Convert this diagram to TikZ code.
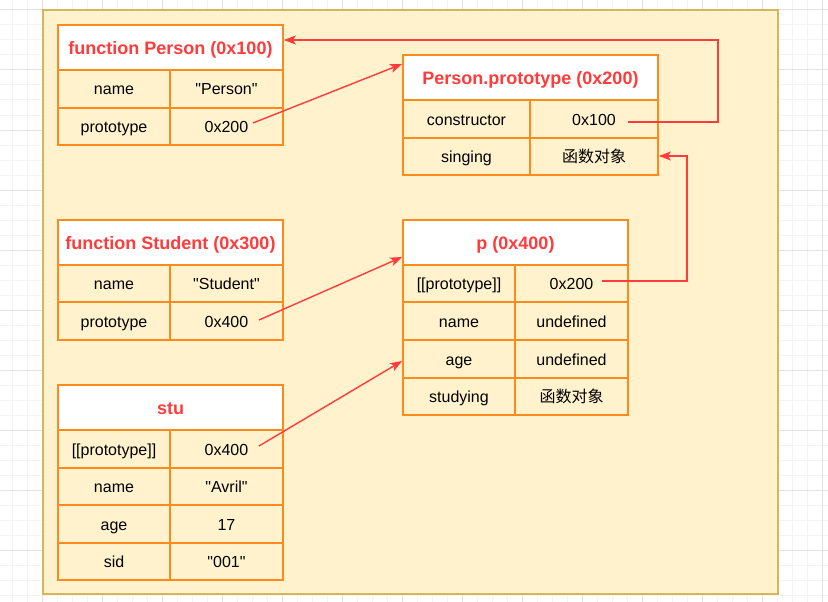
\documentclass[tikz,border=0pt]{standalone}
\usepackage{fontspec}
\setmainfont{Liberation Sans}
\newfontfamily\qfont{Liberation Sans}
\newfontfamily\cjk{Noto Sans CJK SC}
\usetikzlibrary{arrows.meta,calc}
\definecolor{panelfill}{HTML}{FFF2CC}
\definecolor{paneldraw}{HTML}{D6B656}
\definecolor{cellorange}{HTML}{FF8A1C}
\definecolor{linkred}{HTML}{FF3B3B}
\definecolor{gridminor}{HTML}{F3F3F3}
\definecolor{gridmajor}{HTML}{E2E2E2}
\newcommand\dq{{\qfont\symbol{34}}}
\tikzset{
  cell/.style={draw=cellorange, line width=1.8pt, fill=panelfill, inner sep=0pt,
    font=\fontsize{16}{19}\selectfont, text=black, text height=12pt, text depth=0pt},
  titlecell/.style={cell, fill=white, font=\fontsize{18}{21}\selectfont\bfseries, text=linkred,
    text height=14pt, text depth=0pt},
  link/.style={draw=linkred, line width=1.4pt, -{Stealth[length=12pt,width=9pt,inset=3pt]}},
  panel/.style={fill=panelfill, draw=paneldraw, line width=1.6pt},
}
\newcommand\tcell[7][cell]{\node[#1, minimum width={#5-#3}, minimum height={#6-#4}] (#2) at ({(#3+#5)/2},{(#4+#6)/2}) {#7};}
\begin{document}
\begin{tikzpicture}[x=1pt,y=-1pt]
\useasboundingbox (0,0) rectangle (828,602);
% grid
\foreach \i in {0,...,54} {\draw[gridminor, line width=1pt] ({12+15*\i},0) -- ({12+15*\i},602);}
\foreach \i in {0,...,39} {\draw[gridminor, line width=1pt] (0,{10+15*\i}) -- (828,{10+15*\i});}
\foreach \i in {0,...,13} {\draw[gridmajor, line width=1pt] ({42+60*\i},0) -- ({42+60*\i},602);}
\foreach \i in {0,...,9} {\draw[gridmajor, line width=1pt] (0,{10+60*\i}) -- (828,{10+60*\i});}
% panel
\path[panel] (43,10) rectangle (778,594);
% function Person
\tcell[titlecell]{ptitle}{58}{25}{283}{70}{function Person (0x100)}
\tcell{pnk}{58}{70}{170}{108}{name}
\tcell{pnv}{170}{70}{283}{108}{\dq Person\dq}
\tcell{ppk}{58}{108}{170}{145}{prototype}
\tcell{ppv}{170}{108}{283}{145}{0x200}
% Person.prototype
\tcell[titlecell]{pptitle}{403}{55}{658}{100}{Person.prototype (0x200)}
\tcell{ppck}{403}{100}{530}{138}{constructor}
\tcell{ppcv}{530}{100}{658}{138}{0x100}
\tcell{ppsk}{403}{138}{530}{175}{singing}
\tcell{ppsv}{530}{138}{658}{175}{{\cjk 函数对象}}
% function Student
\tcell[titlecell]{stitle}{58}{220}{283}{265}{function Student (0x300)}
\tcell{snk}{58}{265}{170}{302}{name}
\tcell{snv}{170}{265}{283}{302}{\dq Student\dq}
\tcell{spk}{58}{302}{170}{340}{prototype}
\tcell{spv}{170}{302}{283}{340}{0x400}
% p
\tcell[titlecell]{otitle}{403}{220}{628}{265}{p (0x400)}
\tcell{opk}{403}{265}{515}{302}{[[prototype]]}
\tcell{opv}{515}{265}{628}{302}{0x200}
\tcell{onk}{403}{302}{515}{340}{name}
\tcell{onv}{515}{302}{628}{340}{undefined}
\tcell{oak}{403}{340}{515}{378}{age}
\tcell{oav}{515}{340}{628}{378}{undefined}
\tcell{osk}{403}{378}{515}{415}{studying}
\tcell{osv}{515}{378}{628}{415}{{\cjk 函数对象}}
% stu
\tcell[titlecell]{utitle}{58}{385}{283}{430}{stu}
\tcell{upk}{58}{430}{170}{468}{[[prototype]]}
\tcell{upv}{170}{430}{283}{468}{0x400}
\tcell{unk}{58}{468}{170}{505}{name}
\tcell{unv}{170}{468}{283}{505}{\dq Avril\dq}
\tcell{uak}{58}{505}{170}{543}{age}
\tcell{uav}{170}{505}{283}{543}{17}
\tcell{usk}{58}{543}{170}{580}{sid}
\tcell{usv}{170}{543}{283}{580}{\dq 001\dq}
% connector endpoints
\coordinate (s1) at (253,123);
\coordinate (s2) at (628,122);
\coordinate (t2) at (718,40);
\coordinate (s3) at (602,281);
\coordinate (t3) at (687,156);
\coordinate (s4) at (259,320);
\coordinate (s5) at (259,446);
% connectors
\draw[link] (s1) -- ([yshift=13.5pt]pptitle.west);
\draw[link] (s2) -| (t2) -- ([yshift=7.5pt]ptitle.east);
\draw[link] (s3) -| (t3) -- ([yshift=0.5pt]ppsv.east);
\draw[link] (s4) -- ([yshift=-14.5pt]otitle.west);
\draw[link] (s5) -- ([yshift=-2pt]oak.west);
\end{tikzpicture}
\end{document}
